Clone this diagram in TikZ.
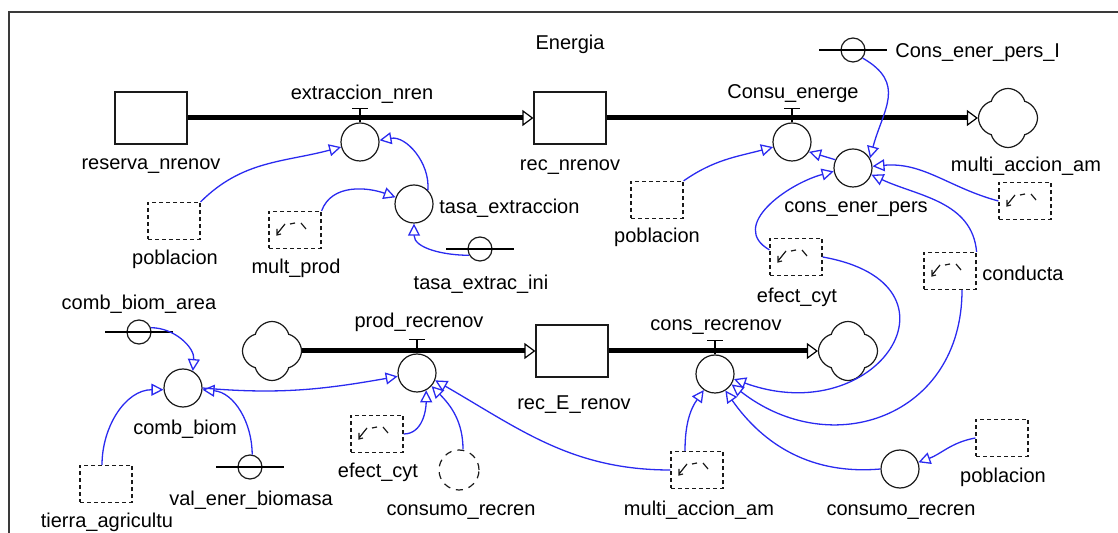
\documentclass[tikz,border=0pt]{standalone}
\usepackage{fontspec}
\setmainfont{Liberation Sans}
\usepackage{xcolor}
\usepackage{tikz}
\usetikzlibrary{arrows.meta,positioning,shapes.symbols}
\definecolor{vsink}{HTML}{1A1A1A}
\definecolor{vsblue}{HTML}{2A2AF0}
\definecolor{vsframe}{HTML}{3A3A3A}

\begin{document}
\begin{tikzpicture}[x=0.5pt,y=-0.5pt,font=\fontsize{10}{12}\selectfont,
    stock/.style={draw=vsink,line width=0.6pt,fill=white,minimum width=36pt,minimum height=26pt,inner sep=0pt},
    cloudy/.style={cloud,cloud puffs=4,cloud puff arc=150,aspect=1,draw=vsink,line width=0.6pt,fill=white,minimum width=29.5pt,minimum height=29.5pt,inner sep=0pt},
    valve/.style={circle,draw=vsink,line width=0.6pt,fill=white,minimum size=19pt,inner sep=0pt},
    aux/.style={valve},
    ghost/.style={circle,draw=vsink,line width=0.6pt,dash pattern=on 3.5pt off 3pt,minimum size=20pt,inner sep=0pt},
    konst/.style={circle,draw=vsink,line width=0.6pt,fill=white,minimum size=12pt,inner sep=0pt},
    given/.style={draw=vsink,line width=0.6pt,dash pattern=on 2pt off 1.5pt,minimum width=26pt,minimum height=18.5pt,inner sep=0pt},
    lookup/.style={given,path picture={\draw[shift={(path picture bounding box.center)},solid,line width=0.6pt]
        (-10,-6) -- (-18,4) (-18,-1) -- (-18,5) -- (-14,4) (-5,-6) -- (0,-7) (6,-7) -- (11,-1);}},
    pipe/.style={draw=black,line width=2.5pt,-{Triangle[open,length=5.5pt,width=8pt,line width=0.6pt]}},
    link/.style={draw=vsblue,line width=0.65pt,-{Triangle[open,length=6pt,width=6pt]}},
    lbl/.style={anchor=base,inner sep=0pt},
  ]
  \useasboundingbox (0,0) rectangle (1118,533);
  \draw[vsframe,line width=0.7pt] (9,533) |- (1118,12);
  \node[lbl] (title) at (570,50) {Energia};

  % stocks, sources and sinks
  \node[stock] (resv) at (151,118) {};
  \node[stock] (recn) at (570,118) {};
  \node[stock] (rece) at (572,351) {};
  \node[cloudy] (snk1) at (1008,118) {};
  \node[cloudy] (src2) at (272,351) {};
  \node[cloudy] (snk2) at (848,351) {};

  % flows
  \draw[pipe] (resv) -- (recn);
  \draw[pipe] (recn) -- (snk1);
  \draw[pipe] (src2) -- (rece);
  \draw[pipe] (rece) -- (snk2);
  \node[valve] (extr) at (360,142) {};
  \node[valve] (cons) at (792,142) {};
  \node[valve] (prod) at (417,373) {};
  \node[valve] (crec) at (715,374) {};
  \foreach \v in {extr,cons,prod,crec}
    \draw[line width=0.6pt] (\v.north) -- ++(0,-14) ++(-8,0) -- ++(16,0);

  % auxiliaries
  \node[aux] (cep) at (853,168) {};
  \node[aux] (tasa) at (414,204) {};
  \node[aux] (cbio) at (183,388) {};
  \node[aux] (crn) at (900,469) {};
  \node[ghost] (crg) at (459,470) {};

  % constants
  \node[konst] (tei) at (480,249) {};
  \node[konst] (cepi) at (853,50) {};
  \node[konst] (cba) at (139,332) {};
  \node[konst] (veb) at (250,467) {};
  \foreach \k in {tei,cepi,cba,veb}
    \draw[line width=0.6pt] ([xshift=-17pt]\k.center) -- ([xshift=17pt]\k.center);
  \node[given] (pob1) at (174,221) {};
  \node[given] (pob2) at (657,200) {};
  \node[given] (pob3) at (1002,438) {};
  \node[given] (tier) at (106,484) {};

  % lookups
  \node[lookup] (mprod) at (295,230) {};
  \node[lookup] (mam1) at (1025,201) {};
  \node[lookup] (ecy1) at (796,257) {};
  \node[lookup] (cond) at (950,271) {};
  \node[lookup] (ecy2) at (377,434) {};
  \node[lookup] (mam2) at (697,470) {};

  % names
  \node[lbl] (lresv) at (151,170) {reserva\_nrenov};
  \node[lbl] (lextr) at (362,100) {extraccion\_nren};
  \node[lbl] (lrecn) at (570,171) {rec\_nrenov};
  \node[lbl] (lcons) at (793,99) {Consu\_energe};
  \node[lbl,anchor=base west] (lcepi) at (895,58) {Cons\_ener\_pers\_I};
  \node[lbl] (lmam1) at (1026,172) {multi\_accion\_am};
  \node[lbl] (lpob1) at (175,265) {poblacion};
  \node[lbl] (lmprod) at (296,274) {mult\_prod};
  \node[lbl,anchor=base west] (ltasa) at (439,214) {tasa\_extraccion};
  \node[lbl] (ltei) at (481,290) {tasa\_extrac\_ini};
  \node[lbl] (lpob2) at (657,243) {poblacion};
  \node[lbl] (lcep) at (856,213) {cons\_ener\_pers};
  \node[lbl] (lecy1) at (797,303) {efect\_cyt};
  \node[lbl,anchor=base west] (lcond) at (982,281) {conducta};
  \node[lbl] (lcba) at (139,310) {comb\_biom\_area};
  \node[lbl] (lprod) at (419,328) {prod\_recrenov};
  \node[lbl] (lcrec) at (716,331) {cons\_recrenov};
  \node[lbl] (lrece) at (574,410) {rec\_E\_renov};
  \node[lbl] (lcbio) at (185,435) {comb\_biom};
  \node[lbl] (lecy2) at (378,478) {efect\_cyt};
  \node[lbl] (lpob3) at (1003,482) {poblacion};
  \node[lbl] (lveb) at (251,506) {val\_ener\_biomasa};
  \node[lbl] (lcrg) at (461,516) {consumo\_recren};
  \node[lbl] (lmam2) at (699,516) {multi\_accion\_am};
  \node[lbl] (lcrn) at (901,516) {consumo\_recren};
  \node[lbl] (ltier) at (107,527) {tierra\_agricultu};

  % information links
  \draw[link] (pob1.north east) to[out=45,in=195] (extr.195);
  \draw[link] (mprod.north east) to[out=70,in=160] (tasa.160);
  \draw[link] (tasa.45) to[out=85,in=10] (extr.5);
  \draw[link] (tei.210) to[out=180,in=270] (tasa.south);
  \draw[link] (pob2.north east) to[out=35,in=195] (cons.195);
  \draw[link] (cep.155) -- (cons.-30);
  \draw[link] (cepi.-40) to[out=-30,in=75,looseness=1.3] (cep.30);
  \draw[link] (mam1.west) to[out=165,in=5] (cep.5);
  \draw[link] (cond.north east) to[out=95,in=-25] (cep.-20);
  \draw[link] (ecy1.165) to[out=150,in=195,looseness=1.2] (cep.190);
  \draw[link] (ecy1.east) to[out=-10,in=-20,looseness=2.6] (crec.-15);
  \draw[link] ([xshift=6pt]cond.south) to[out=-90,in=-38,looseness=1.3] (crec.-32);
  \draw[link] (crn.west) to[out=185,in=-55] (crec.-58);
  \draw[link] ([xshift=-6pt]mam2.north) to[out=90,in=235] (crec.235);
  \draw[link] (mam2.west) to[out=180,in=-30] (prod.-22);
  \draw[link] (ecy2.east) to[out=0,in=-90] (prod.-62);
  \draw[link] ([xshift=2pt]crg.north) to[out=90,in=-45] (prod.-42);
  \draw[link] (cbio.east) to[out=-5,in=190] (prod.190);
  \draw[link] (veb.80) to[out=90,in=-5] (cbio.-5);
  \draw[link] ([xshift=-2pt]tier.north) to[out=90,in=180] (cbio.185);
  \draw[link] (cba.20) to[out=0,in=85] (cbio.60);
  \draw[link] (pob3.west) to[out=190,in=20] (crn.20);
\end{tikzpicture}
\end{document}
